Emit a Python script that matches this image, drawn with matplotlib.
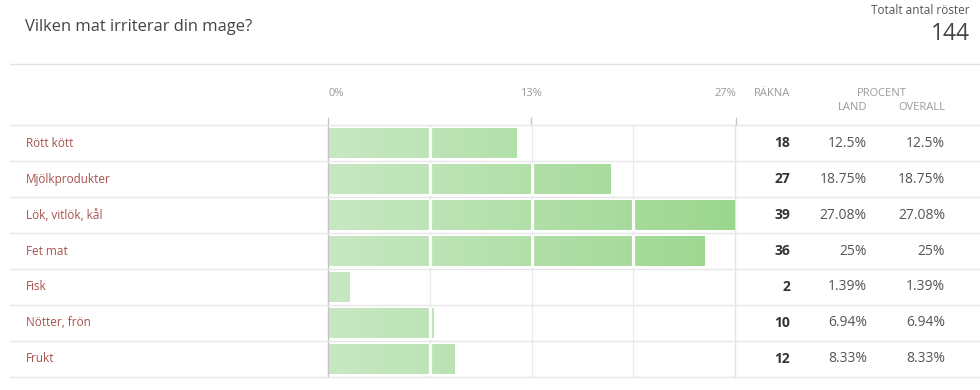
import numpy as np
import matplotlib.pyplot as plt
from matplotlib.lines import Line2D
from matplotlib.colors import LinearSegmentedColormap
import matplotlib.transforms as mtransforms

plt.rcParams['font.family'] = ['Open Sans', 'DejaVu Sans']

# data
title = "Vilken mat irriterar din mage?"
categories = ["Rött kött", "Mjölkprodukter", "Lök, vitlök, kål", "Fet mat",
              "Fisk", "Nötter, frön", "Frukt"]
counts = [18, 27, 39, 36, 2, 10, 12]
total_votes = 144
tick_labels = ["0%", "13%", "27%"]

pct = [round(c / total_votes * 100, 2) for c in counts]
xmax = max(pct)

W, H = 980, 390
fig = plt.figure(figsize=(W / 100, H / 100), dpi=100)

def fx(px):
    return px / W

def fy(py):
    return 1 - py / H

# bar area
ax = fig.add_axes([fx(327), fy(377), fx(735) - fx(327), fy(125) - fy(377)])
ax.set_xlim(-0.08, xmax)
ax.set_ylim(len(categories) - 0.5, -0.5)
ax.axis('off')

quarters = [xmax * q / 4 for q in (1, 2, 3)]

# light grid lines inside rows
for q in quarters:
    ax.axvline(q, color='#ebebeb', lw=1, zorder=0)
ax.axvline(xmax, color='#e3e3e3', lw=1, zorder=0, clip_on=False)

# bars with a horizontal green gradient
cmap = LinearSegmentedColormap.from_list('g', ['#c8e8c3', '#9bd68e'])
grad = np.linspace(0, 1, 256).reshape(1, -1)
bars = ax.barh(range(len(categories)), pct, left=0.08, height=0.86,
               color='none', edgecolor='none', zorder=2)
for i, b in enumerate(bars):
    im = ax.imshow(grad, cmap=cmap, aspect='auto', extent=(0, xmax, len(categories) - 0.5, -0.5),
                   zorder=2, interpolation='bilinear')
    im.set_clip_path(b)
    # white separators at quarter marks
    for q in quarters:
        if q < pct[i]:
            ax.plot([q, q], [i - 0.45, i + 0.45], color='white', lw=2.3, zorder=3,
                    solid_capstyle='butt')

# left axis line and ticks in figure space
fig.add_artist(Line2D([fx(327.5), fx(327.5)], [fy(118), fy(377)], color='#c4c4c4', lw=1))
for px in (531, 735.5):
    fig.add_artist(Line2D([fx(px), fx(px)], [fy(118), fy(125)], color='#c4c4c4', lw=1))

# row separators
for i in range(len(categories) + 1):
    y = 125 + 36 * i
    fig.add_artist(Line2D([fx(10), 1], [fy(y), fy(y)], color='#e6e6e6', lw=1))
fig.add_artist(Line2D([fx(10), 1], [fy(64), fy(64)], color='#e2e2e2', lw=1))

# header texts
fig.text(fx(25), fy(27), title, fontsize=11.9, color='#444444', va='center', ha='left')
fig.text(fx(970), fy(10), "Totalt antal röster", fontsize=8.5, color='#555555',
         va='center', ha='right')
fig.text(fx(970), fy(34), str(total_votes), fontsize=16.5, color='#444444',
         va='center', ha='right')

hdr = dict(fontsize=8, color='#999999', va='center')
fig.text(fx(328), fy(93), tick_labels[0], ha='left', **hdr)
fig.text(fx(531), fy(93), tick_labels[1], ha='center', **hdr)
fig.text(fx(736), fy(93), tick_labels[2], ha='right', **hdr)
fig.text(fx(790), fy(93), "RÄKNA", ha='right', **hdr)
fig.text(fx(882), fy(93), "PROCENT", ha='center', **hdr)
fig.text(fx(867), fy(108), "LAND", ha='right', **hdr)
fig.text(fx(945), fy(108), "OVERALL", ha='right', **hdr)

# row texts
tr = mtransforms.blended_transform_factory(fig.transFigure, ax.transData)
for i, cat in enumerate(categories):
    ax.text(fx(26), i, cat, transform=tr, fontsize=8.5, color='#a5524c',
            va='center', ha='left', clip_on=False)
    ax.text(fx(790), i, str(counts[i]), transform=tr, fontsize=10, color='#333333',
            fontweight='bold', va='center', ha='right', clip_on=False)
    s = f"{pct[i]:g}%"
    ax.text(fx(867), i, s, transform=tr, fontsize=10, color='#555555',
            va='center', ha='right', clip_on=False)
    ax.text(fx(945), i, s, transform=tr, fontsize=10, color='#555555',
            va='center', ha='right', clip_on=False)

fig.savefig('out.png', dpi=100, facecolor='white')
